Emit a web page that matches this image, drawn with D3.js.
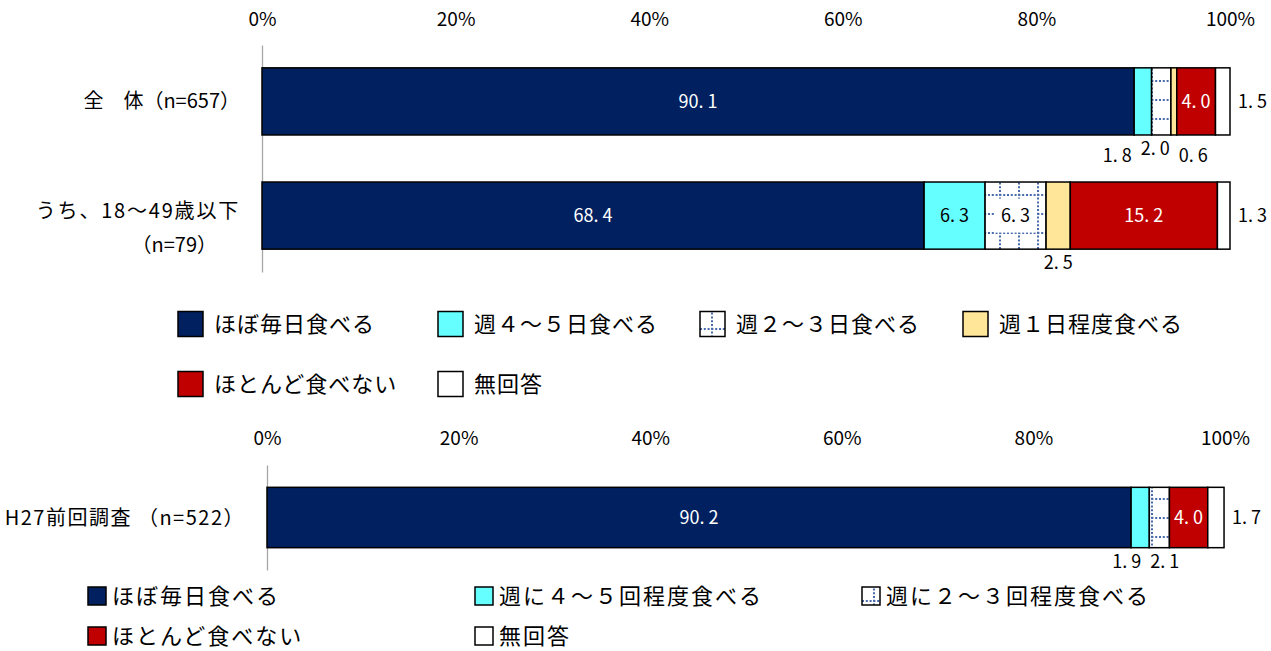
<!DOCTYPE html>
<html lang="ja">
<head>
<meta charset="utf-8">
<script src="https://cdn.jsdelivr.net/npm/d3@7"></script>
<style>
  html, body { margin: 0; padding: 0; background: #fff; }
  svg { display: block; }
  text { font-family: "Liberation Sans Narrow", "Noto Sans CJK JP", sans-serif; fill: #000; }
  .jp { font-family: "Noto Sans CJK JP", sans-serif; }
</style>
</head>
<body>
<svg id="chart" width="1271" height="651"></svg>
<script>
// ---- data ----
const categories = ["全　体（n=657）", "うち、18～49歳以下\n（n=79）"];
const seriesNow = ["ほぼ毎日食べる", "週４～５日食べる", "週２～３日食べる", "週１日程度食べる", "ほとんど食べない", "無回答"];
const valuesNow = [
  [90.1, 1.8, 2.0, 0.6, 4.0, 1.5],
  [68.4, 6.3, 6.3, 2.5, 15.2, 1.3]
];
const prevCategories = ["H27前回調査 （n=522）"];
const seriesPrev = ["ほぼ毎日食べる", "週に４～５回程度食べる", "週に２～３回程度食べる", "ほとんど食べない", "無回答"];
const valuesPrev = [
  [90.2, 1.9, 2.1, 4.0, 1.7]
];
const tickValues = [0, 20, 40, 60, 80, 100];

// ---- styles per answer type ----
const styleNow = ["navy", "cyan", "hatch", "yellow", "red", "white"];
const stylePrev = ["navy", "cyan", "hatch", "red", "white"];
const fills = {
  navy: "#002060", cyan: "#66FFFF", hatch: "url(#hatch)",
  yellow: "#FFE699", red: "#C00000", white: "#FFFFFF"
};
const insideText = { navy: "#fff", red: "#fff", cyan: "#000", hatch: "#000", yellow: "#000", white: "#000" };

const svg = d3.select("#chart");

// dotted grid used for the "2-3 days" answers
const dotColor = "#4869ab";
const pat = svg.append("defs").append("pattern")
  .attr("id", "hatch").attr("patternUnits", "userSpaceOnUse")
  .attr("width", 19).attr("height", 19);
pat.append("rect").attr("width", 19).attr("height", 19).attr("fill", "#fff");
pat.append("line").attr("x1", 0).attr("x2", 19).attr("y1", 5).attr("y2", 5)
  .attr("stroke", dotColor).attr("stroke-width", 2).attr("stroke-dasharray", "2,1.8");
pat.append("line").attr("x1", 12).attr("x2", 12).attr("y1", 0).attr("y2", 19)
  .attr("stroke", dotColor).attr("stroke-width", 2).attr("stroke-dasharray", "2,1.8");

const fmt = v => d3.format(".1f")(v).replace(".", ". ");

function drawPanel(opts) {
  const { cats, values, styles, xRange, yRange, padIn, padOut, tickY, catFont, catSpacing } = opts;
  const x = d3.scaleLinear().domain([0, 100]).range(xRange);
  const y = d3.scaleBand().domain(cats).range(yRange).paddingInner(padIn).paddingOuter(padOut);
  const g = svg.append("g");

  // percent ticks along the top
  g.append("g")
    .attr("transform", `translate(0,${tickY})`)
    .call(d3.axisTop(x).tickValues(tickValues).tickSize(0).tickFormat(d => d + "%"))
    .call(a => a.select(".domain").remove())
    .call(a => a.selectAll("text").attr("font-size", 19).attr("dy", "0.35em").attr("fill", "#000")
      .style("font-family", '"Liberation Sans Narrow", "Noto Sans CJK JP", sans-serif'));

  // category axis
  const yAxis = g.append("g")
    .attr("transform", `translate(${xRange[0]},0)`)
    .call(d3.axisLeft(y).tickSize(0).tickSizeOuter(0).tickFormat(""));
  yAxis.select(".domain").attr("stroke", "#a6a6a6").attr("stroke-width", 1.3);

  cats.forEach(c => {
    const lines = c.split("\n");
    const cy = y(c) + y.bandwidth() / 2;
    const t = g.append("text").attr("font-size", catFont).attr("text-anchor", "end");
    if (lines.length === 1) {
      t.append("tspan").attr("x", xRange[0] - 22).attr("y", cy).attr("dy", "0.35em")
        .style("letter-spacing", catSpacing + "px").text(lines[0]);
    } else {
      t.append("tspan").attr("x", xRange[0] - 22).attr("y", cy - 5).attr("dy", "0.35em")
        .style("letter-spacing", "1.8px").text(lines[0]);
      t.append("tspan").attr("x", xRange[0] - 45).attr("y", cy + 29).attr("dy", "0.35em")
        .style("letter-spacing", catSpacing + "px").text(lines[1]);
    }
  });

  values.forEach((row, ri) => {
    const cat = cats[ri];
    const y0 = y(cat), h = y.bandwidth();
    let acc = 0;
    const segs = row.map((v, i) => { const s = { v, i, a: acc, b: acc + v, style: styles[i] }; acc += v; return s; });

    g.selectAll(null).data(segs.filter(s => s.v > 0)).join("rect")
      .attr("x", s => x(s.a)).attr("y", y0)
      .attr("width", s => x(s.b) - x(s.a)).attr("height", h)
      .attr("fill", s => fills[s.style])
      .attr("stroke", "#000").attr("stroke-width", 1.5);

    // labels inside wide segments
    segs.filter(s => s.v >= 4 && s.i < row.length - 1).forEach(s => {
      const cx = (x(s.a) + x(s.b)) / 2, cy = y0 + h / 2;
      if (s.style === "hatch") {
        g.append("rect").attr("x", cx - 21).attr("y", cy - 17).attr("width", 42).attr("height", 34)
          .attr("fill", "#fff");
      }
      g.append("text").attr("x", cx).attr("y", cy)
        .attr("dy", "0.35em").attr("text-anchor", "middle").attr("font-size", 18)
        .style("fill", insideText[s.style]).text(fmt(s.v));
    });

    // "no answer" to the right of the bar
    const last = segs[segs.length - 1];
    g.append("text").attr("x", x(last.b) + 8).attr("y", y0 + h / 2)
      .attr("dy", "0.35em").attr("font-size", 18).text(fmt(last.v));

    // narrow segments labelled below, spread apart
    const small = segs.filter(s => s.v > 0 && s.v < 4 && s.i < row.length - 1);
    const mids = small.map(s => (x(s.a) + x(s.b)) / 2);
    const centre = d3.mean(mids);
    const gap = 38;
    small.forEach((s, k) => {
      const cx = small.length > 1 ? centre + (k - (small.length - 1) / 2) * gap - 4 : mids[k];
      const drop = (small.length === 3 && k !== 1) ? 7 : 0;
      g.append("text").attr("x", cx).attr("y", y0 + h + 14 + drop)
        .attr("dy", "0.35em").attr("text-anchor", "middle").attr("font-size", 18)
        .text(fmt(s.v));
    });
  });
}

drawPanel({
  cats: categories, values: valuesNow, styles: styleNow,
  xRange: [262, 1230], yRange: [45, 272], padIn: 0.412, padOut: 0.2, tickY: 22,
  catFont: 20, catSpacing: 0
});
drawPanel({
  cats: prevCategories, values: valuesPrev, styles: stylePrev,
  xRange: [267, 1225], yRange: [465, 570], padIn: 0.27, padOut: 0.27, tickY: 441,
  catFont: 20, catSpacing: 1.5
});

// ---- legends ----
function legend(names, styles, positions, size, fontSize, spacing, textGap) {
  const items = svg.append("g").selectAll("g").data(names).join("g")
    .attr("transform", (d, i) => `translate(${positions[i][0]},${positions[i][1]})`);
  items.append("rect").attr("x", 0).attr("y", -size / 2).attr("width", size).attr("height", size)
    .attr("fill", (d, i) => fills[styles[i]]).attr("stroke", "#000").attr("stroke-width", 1.5);
  items.append("text").attr("x", size + textGap).attr("y", 0).attr("dy", "0.36em")
    .attr("font-size", fontSize).attr("class", "jp").style("letter-spacing", spacing + "px")
    .text(d => d);
}

legend(seriesNow, styleNow,
  [[178, 324], [438, 324], [700, 324], [963, 324], [178, 384], [438, 384]], 25, 22, 1, 11);
legend(seriesPrev, stylePrev,
  [[88, 596], [475, 596], [862, 596], [88, 636], [475, 636]], 18, 22, 2, 6);
</script>
</body>
</html>
